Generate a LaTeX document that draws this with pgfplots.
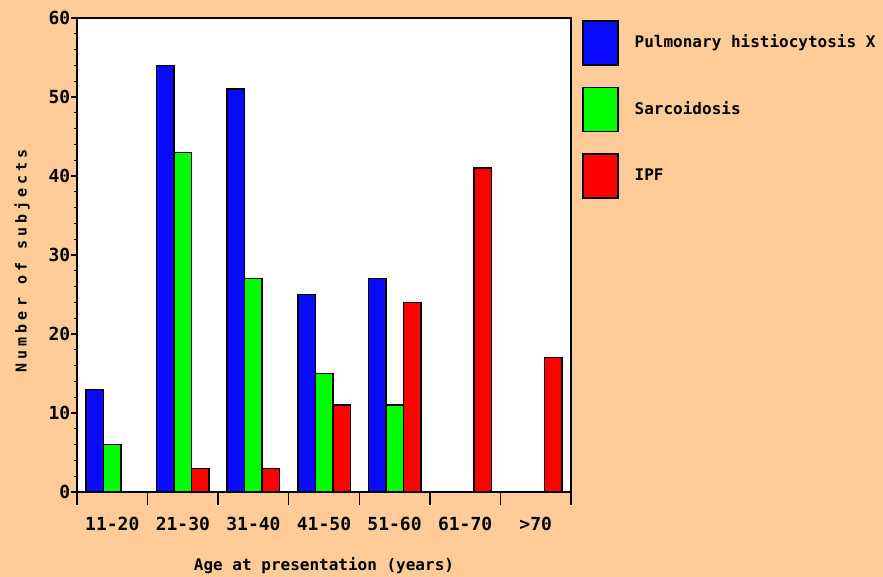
\documentclass[border=0pt]{standalone}
\usepackage{fontspec}
\usepackage{pgfplots}
\pgfplotsset{compat=1.18}
\newfontfamily\cf{DejaVu Sans Mono}
\newfontfamily\cfy[LetterSpace=27]{DejaVu Sans Mono}
\definecolor{peach}{HTML}{FFCC99}
\definecolor{barblue}{HTML}{0A0AFF}
\definecolor{bargreen}{HTML}{00FF00}
\definecolor{barred}{HTML}{FF0000}
\begin{document}
\begin{tikzpicture}
\fill[peach] (0,0) rectangle (883pt,577pt);
\begin{axis}[
  at={(77pt,85pt)}, anchor=south west,
  scale only axis, width=494pt, height=474pt,
  axis background/.style={fill=white},
  axis line style={black, line width=1.5pt},
  ybar=0pt, bar width=17.5pt,
  xmin=-0.5, xmax=6.5, ymin=0, ymax=60,
  xtick={-0.5,0.5,...,6.5},
  xticklabels={11-20,21-30,31-40,41-50,51-60,61-70,>70,{}},
  xtick style={/pgfplots/major tick length=13pt, black, line width=1.5pt},
  ytick={0,10,...,60},
  minor y tick num=4,
  tick align=outside, tick pos=left,
  major tick length=6pt, minor tick length=3pt,
  ytick style={black, line width=1.2pt},
  /pgf/number format/assume math mode=true,
  ticklabel style={font=\cf\bfseries\fontsize{18}{18}\selectfont},
  yticklabel style={inner sep=0.5pt},
  xticklabel style={inner sep=0pt, anchor=north, xshift=35.29pt, yshift=-19pt},
  xlabel={Age at presentation (years)},
  ylabel={Number of subjects},
  xlabel style={font=\cf\bfseries\fontsize{16}{16}\selectfont, at={(axis description cs:0.5,-0.1561)}, anchor=center},
  ylabel style={font=\cfy\bfseries\fontsize{15}{15}\selectfont, at={(axis description cs:-0.1113,0.488)}, anchor=center},
  legend style={draw=none, fill=none, inner sep=0pt, at={(axis description cs:1,1)}, anchor=north west, xshift=11pt, yshift=-2pt, row sep=21pt, font=\cf\bfseries\fontsize{16}{16}\selectfont, nodes={inner sep=0pt}, /tikz/every odd column/.style={column sep=16pt}},
  legend cell align=left,
  legend image code/.code={\draw[#1, line width=1.5pt] (0pt,-23pt) rectangle (35pt,21pt);},
]
\addplot[fill=barblue, draw=black, line width=1.5pt] coordinates {(0,13) (1,54) (2,51) (3,25) (4,27)};
\addplot[fill=bargreen, draw=black, line width=1.5pt] coordinates {(0,6) (1,43) (2,27) (3,15) (4,11)};
\addplot[fill=barred, draw=black, line width=1.5pt] coordinates {(1,3) (2,3) (3,11) (4,24) (5,41) (6,17)};
\legend{Pulmonary histiocytosis X, Sarcoidosis, IPF}
\end{axis}
\pgfresetboundingbox
\path[use as bounding box] (0,0) rectangle (883pt,577pt);
\end{tikzpicture}
\end{document}
